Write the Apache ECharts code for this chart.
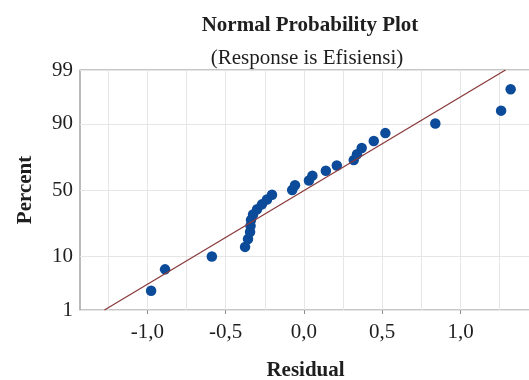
<!DOCTYPE html>
<html><head><meta charset="utf-8">
<script src="https://cdn.jsdelivr.net/npm/echarts@6/dist/echarts.min.js"></script>
<style>html,body{margin:0;padding:0;background:#fff}#c{width:529px;height:380px}</style>
</head><body><div id="c"></div>
<script>
// Residuals (sorted) and their plotted cumulative percents
const residuals = [-0.976, -0.887, -0.588, -0.376, -0.357, -0.344, -0.341, -0.338, -0.325, -0.299,
  -0.268, -0.236, -0.204, -0.075, -0.057, 0.032, 0.054, 0.140, 0.210, 0.318,
  0.339, 0.369, 0.446, 0.520, 0.839, 1.259, 1.320];
const percents = [2.55, 6.20, 9.85, 13.50, 17.15, 20.80, 24.45, 28.10, 31.75, 35.40,
  39.05, 42.70, 46.35, 50.00, 53.65, 57.30, 60.95, 64.60, 68.25, 71.90,
  75.55, 79.20, 82.85, 86.50, 90.15, 93.80, 97.45];
// Fitted normal line, residual at given percents
const fitResiduals = [-1.274, 1.287];
const fitPercents = [1, 99];
// Axis ticks
const yTickPercents = [1, 10, 50, 90, 99];
const yTickLabels = ['1', '10', '50', '90', '99'];
const xLabelValues = [-1, -0.5, 0, 0.5, 1];
const xLabelTexts = ['-1,0', '-0,5', '0,0', '0,5', '1,0'];
const xGridValues = [-1.25, -1, -0.75, -0.5, -0.25, 0, 0.25, 0.5, 0.75, 1, 1.25];

function probit(p) {
  const a = [-3.969683028665376e+01, 2.209460984245205e+02, -2.759285104469687e+02, 1.383577518672690e+02, -3.066479806614716e+01, 2.506628277459239e+00];
  const b = [-5.447609879822406e+01, 1.615858368580409e+02, -1.556989798598866e+02, 6.680131188771972e+01, -1.328068155288572e+01];
  const c = [-7.784894002430293e-03, -3.223964580411365e-01, -2.400758277161838e+00, -2.549671010029314e+00, 4.374664141464968e+00, 2.938163982698783e+00];
  const d = [7.784695709041462e-03, 3.224671290700398e-01, 2.445134137142996e+00, 3.754408661907416e+00];
  const plow = 0.02425, phigh = 1 - plow;
  let q, r;
  if (p < plow) {
    q = Math.sqrt(-2 * Math.log(p));
    return (((((c[0]*q+c[1])*q+c[2])*q+c[3])*q+c[4])*q+c[5]) / ((((d[0]*q+d[1])*q+d[2])*q+d[3])*q+1);
  } else if (p <= phigh) {
    q = p - 0.5; r = q * q;
    return (((((a[0]*r+a[1])*r+a[2])*r+a[3])*r+a[4])*r+a[5])*q / (((((b[0]*r+b[1])*r+b[2])*r+b[3])*r+b[4])*r+1);
  } else {
    q = Math.sqrt(-2 * Math.log(1 - p));
    return -(((((c[0]*q+c[1])*q+c[2])*q+c[3])*q+c[4])*q+c[5]) / ((((d[0]*q+d[1])*q+d[2])*q+d[3])*q+1);
  }
}
const z = pct => probit(pct / 100);
const yTickZ = yTickPercents.map(z);
const FONT = 'Liberation Serif';
const TXT = '#1e1e1e';

const chart = echarts.init(document.getElementById('c'), null, {renderer: 'canvas'});
chart.setOption({
  animation: false,
  backgroundColor: '#fff',
  title: [
    {text: 'Normal Probability Plot', left: 310, top: 15, textAlign: 'center', padding: 0,
     textStyle: {fontFamily: FONT, fontWeight: 'bold', fontSize: 21, color: TXT}},
    {text: '(Response is Efisiensi)', left: 307, top: 48, textAlign: 'center', padding: 0,
     textStyle: {fontFamily: FONT, fontWeight: 'normal', fontSize: 21, color: TXT}}
  ],
  grid: {left: 80, right: -2, top: 70, bottom: 70, show: true, borderColor: '#8e8e8e', borderWidth: 1.2,
         containLabel: false, outerBoundsMode: 'none'},
  xAxis: [
    {type: 'value', min: -1.43, max: 1.45, position: 'bottom',
     name: 'Residual', nameLocation: 'middle', nameGap: 50,
     nameTextStyle: {fontFamily: FONT, fontWeight: 'bold', fontSize: 21, color: TXT},
     axisLine: {show: false, onZero: false},
     axisTick: {show: true, inside: false, length: 4, customValues: xLabelValues, lineStyle: {color: '#8e8e8e'}},
     axisLabel: {customValues: xLabelValues, margin: 12, fontFamily: FONT, fontSize: 21, color: TXT,
       formatter: v => { const i = xLabelValues.findIndex(x => Math.abs(x - v) < 1e-9); return i >= 0 ? xLabelTexts[i] : ''; }},
     splitLine: {show: false}},
    {type: 'value', min: -1.43, max: 1.45, position: 'bottom', gridIndex: 0,
     axisLine: {show: false, onZero: false}, axisLabel: {show: false},
     axisTick: {show: false, customValues: xGridValues},
     splitLine: {show: true, lineStyle: {color: '#e6e6e6', width: 1}}}
  ],
  yAxis: {
    type: 'value', min: z(1), max: z(99),
    name: 'Percent', nameLocation: 'middle', nameGap: 44,
    nameTextStyle: {fontFamily: FONT, fontWeight: 'bold', fontSize: 21, color: TXT},
    axisLine: {show: false, onZero: false},
    axisTick: {show: false, customValues: yTickZ},
    axisLabel: {customValues: yTickZ, margin: 7, padding: [5, 0, 0, 0], fontFamily: FONT, fontSize: 21, color: TXT,
      formatter: v => { const i = yTickZ.findIndex(t => Math.abs(t - v) < 1e-6); return i >= 0 ? yTickLabels[i] : ''; }},
    splitLine: {show: true, lineStyle: {color: '#e6e6e6', width: 1}}
  },
  series: [
    {type: 'scatter', xAxisIndex: 0, symbolSize: 10.5, z: 2,
     itemStyle: {color: '#0b4b99', opacity: 1},
     data: residuals.map((r, i) => [r, z(percents[i])])},
    {type: 'line', xAxisIndex: 0, showSymbol: false, symbol: 'none', z: 3,
     lineStyle: {color: '#8b3a3a', width: 1.3},
     data: fitResiduals.map((r, i) => [r, z(fitPercents[i])])}
  ]
});
</script>
</body></html>
